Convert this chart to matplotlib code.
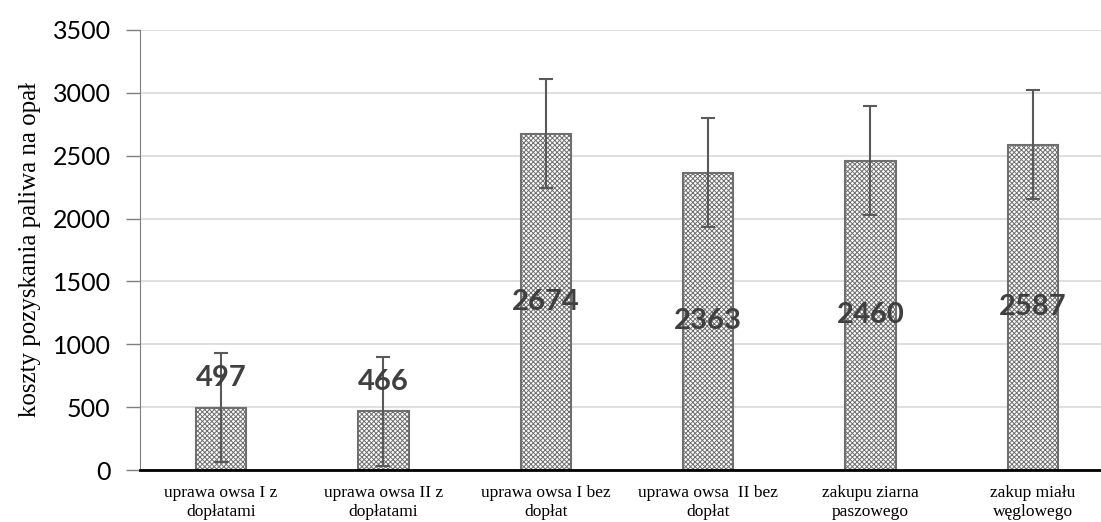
import matplotlib.pyplot as plt
import numpy as np

plt.rcParams['hatch.linewidth'] = 0.7

categories = ['uprawa owsa I z\ndopłatami', 'uprawa owsa II z\ndopłatami',
              'uprawa owsa I bez\ndopłat', 'uprawa owsa  II bez\ndopłat',
              'zakupu ziarna\npaszowego', 'zakup miału\nwęglowego']
values = [497, 466, 2674, 2363, 2460, 2587]
errors = [433, 433, 433, 433, 433, 433]

fig = plt.figure(figsize=(11.01, 5.22), dpi=100)
ax = fig.add_axes([0.127, 0.0996, 0.873, 0.843])

x = np.arange(len(values))
ax.bar(x, values, width=0.31, color='white', edgecolor='#6f6f6f',
       linewidth=1.5, hatch='xxxxxxx', zorder=2)
ax.errorbar(x, values, yerr=errors, fmt='none', ecolor='#595959',
            elinewidth=1.5, capsize=5, capthick=1.5, zorder=3)

for xi, v in zip(x, values):
    ypos = v + 235 if v < 1000 else v / 2
    ax.text(xi, ypos, str(v), ha='center', va='center', fontsize=21,
            fontweight='bold', color='#404040', family='Lato', zorder=4)

ax.set_ylim(0, 3500)
ax.set_xlim(-0.5, 5.42)
ax.set_yticks(np.arange(0, 3501, 500))
ax.set_xticks(x)
ax.set_xticklabels(categories, family='Liberation Serif', fontsize=12.5,
                   linespacing=1.2)
for lbl in ax.get_yticklabels():
    lbl.set_family('Lato')
    lbl.set_fontsize(18)
ax.tick_params(axis='x', length=0, pad=11)
ax.tick_params(axis='y', length=10, color='#7f7f7f', width=1, pad=11)
ax.set_ylabel('koszty pozyskania paliwa na opał', family='Liberation Serif',
              fontsize=18, labelpad=8)

ax.grid(axis='y', color='#d9d9d9', linewidth=1.2, zorder=0)
ax.set_axisbelow(True)
for s in ['top', 'right']:
    ax.spines[s].set_visible(False)
ax.spines['left'].set_color('#7f7f7f')
ax.spines['bottom'].set_color('black')
ax.spines['bottom'].set_linewidth(2)
ax.spines['bottom'].set_zorder(5)

plt.savefig('out.png', dpi=100)
